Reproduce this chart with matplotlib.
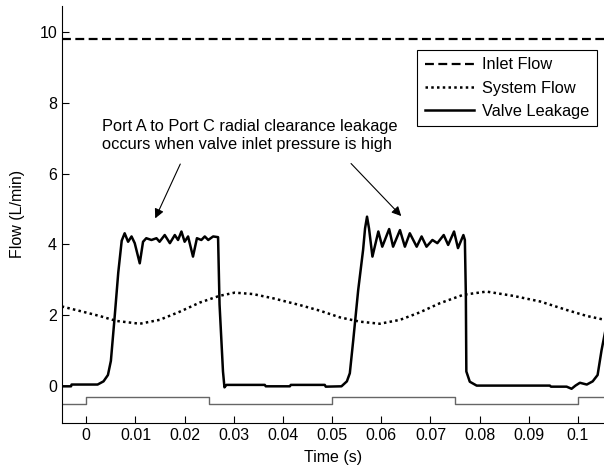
import matplotlib
matplotlib.use("Agg")
import matplotlib.pyplot as plt

plt.rcParams['font.family'] = ['Liberation Sans', 'DejaVu Sans']
plt.rcParams['font.size'] = 11.5

# inlet flow (constant)
t_inlet = [-0.005, 0.106]
q_inlet = [9.8, 9.8]

# system flow (dotted)
t_sys = [-0.005, -0.0007, 0.0027, 0.0061, 0.0109, 0.0149, 0.0190, 0.0231, 0.0271,
         0.0302, 0.0339, 0.0380, 0.0434, 0.0475, 0.0516, 0.0556, 0.0597, 0.0638,
         0.0678, 0.0719, 0.0767, 0.0814, 0.0868, 0.0923, 0.0977, 0.1018, 0.1055]
q_sys = [2.24, 2.09, 1.97, 1.83, 1.75, 1.86, 2.09, 2.35, 2.54,
         2.63, 2.59, 2.47, 2.28, 2.12, 1.93, 1.81, 1.75, 1.86,
         2.07, 2.33, 2.57, 2.66, 2.54, 2.38, 2.14, 1.97, 1.86]

# valve leakage (solid)
t_leak = [-0.005, -0.0031, -0.0030, 0.0023, 0.0035, 0.0044, 0.0050, 0.0058, 0.0065, 0.0072,
          0.0078, 0.0085, 0.0092, 0.00985, 0.01087, 0.01154, 0.0122, 0.01325, 0.01427,
          0.0149, 0.01595, 0.0170, 0.0180, 0.01866, 0.01935, 0.0200, 0.0207, 0.0217,
          0.0225, 0.0234, 0.0241, 0.0248, 0.0258, 0.0268, 0.0271, 0.0278, 0.0281,
          0.0285, 0.0363, 0.0365, 0.0414, 0.0416, 0.0485, 0.0487, 0.0519, 0.0530,
          0.0536, 0.0543, 0.0553, 0.0563, 0.0567, 0.0571, 0.0575, 0.0582, 0.0594,
          0.0602, 0.0616, 0.0624, 0.0638, 0.0648, 0.0658, 0.0672, 0.0682, 0.0692,
          0.0704, 0.0714, 0.0727, 0.0736, 0.0748, 0.0756, 0.0767, 0.0770, 0.0772,
          0.0773, 0.0780, 0.0794, 0.0943, 0.0945, 0.0977, 0.0987, 0.0995, 0.1004,
          0.1018, 0.1030, 0.1040, 0.1048, 0.1055]
q_leak = [-0.02, -0.02, 0.03, 0.03, 0.12, 0.3, 0.7, 2.0, 3.2, 4.1,
          4.31, 4.07, 4.22, 4.03, 3.46, 4.07, 4.17, 4.12, 4.17,
          4.07, 4.26, 4.03, 4.26, 4.12, 4.36, 4.07, 4.22, 3.65,
          4.17, 4.12, 4.22, 4.12, 4.22, 4.2, 2.3, 0.4, -0.05,
          0.02, 0.02, -0.02, -0.02, 0.02, 0.02, -0.03, -0.02, 0.12,
          0.35, 1.29, 2.7, 3.84, 4.45, 4.78, 4.45, 3.65, 4.36,
          3.93, 4.43, 3.93, 4.40, 3.93, 4.31, 3.93, 4.22, 3.93,
          4.12, 4.03, 4.26, 3.98, 4.36, 3.89, 4.26, 4.12, 2.57,
          0.4, 0.11, 0.0, 0.0, -0.03, -0.03, -0.09, 0.0, 0.08,
          0.03, 0.12, 0.3, 1.0, 1.5]

# valve command (grey square wave)
t_cmd = [-0.005, 0.0, 0.0, 0.025, 0.025, 0.05, 0.05, 0.075, 0.075, 0.1, 0.1, 0.106]
q_cmd = [-0.51, -0.51, -0.33, -0.33, -0.51, -0.51, -0.33, -0.33, -0.51, -0.51, -0.33, -0.33]

xticks = [0, 0.01, 0.02, 0.03, 0.04, 0.05, 0.06, 0.07, 0.08, 0.09, 0.1]
xticklabels = ['0', '0.01', '0.02', '0.03', '0.04', '0.05', '0.06', '0.07', '0.08', '0.09', '0.1']
yticks = [0, 2, 4, 6, 8, 10]

fig = plt.figure(figsize=(6.04, 4.66), dpi=100)
ax = fig.add_axes([0.1026, 0.0929, 0.8974, 0.8942])

ax.plot(t_inlet, q_inlet, color='black', lw=1.6, dashes=(4, 2), label='Inlet Flow')
ax.plot(t_sys, q_sys, color='black', lw=1.8, linestyle=(0, (1, 1.3)), label='System Flow')
ax.plot(t_leak, q_leak, color='black', lw=1.8, label='Valve Leakage')
ax.plot(t_cmd, q_cmd, color='#666666', lw=1.0)

ax.set_xlim(-0.00495, 0.1053)
ax.set_ylim(-1.05, 10.74)
ax.set_xticks(xticks)
ax.set_xticklabels(xticklabels)
ax.set_yticks(yticks)
ax.tick_params(direction='in', length=5, width=0.8, labelsize=11.5)
ax.spines['top'].set_visible(False)
ax.spines['right'].set_visible(False)
ax.set_xlabel('Time (s)', fontsize=11.5, labelpad=5)
ax.set_ylabel('Flow (L/min)', fontsize=11.5, labelpad=10)

ax.text(0.0031, 7.08, 'Port A to Port C radial clearance leakage\noccurs when valve inlet pressure is high',
        ha='left', va='center', fontsize=11.8, linespacing=1.2)
ax.annotate('', xy=(0.01378, 4.66), xytext=(0.01935, 6.34),
            arrowprops=dict(arrowstyle='-|>', color='black', lw=0.8, mutation_scale=14))
ax.annotate('', xy=(0.06445, 4.74), xytext=(0.05346, 6.34),
            arrowprops=dict(arrowstyle='-|>', color='black', lw=0.8, mutation_scale=14))

leg = ax.legend(loc='upper right', bbox_to_anchor=(0.9865, 0.8944), borderaxespad=0,
                fancybox=False, edgecolor='black', framealpha=1, fontsize=11.8,
                handlelength=3.0, handletextpad=0.5, labelspacing=0.5, borderpad=0.45)
leg.get_frame().set_linewidth(0.8)

fig.savefig('out.png', dpi=100)
